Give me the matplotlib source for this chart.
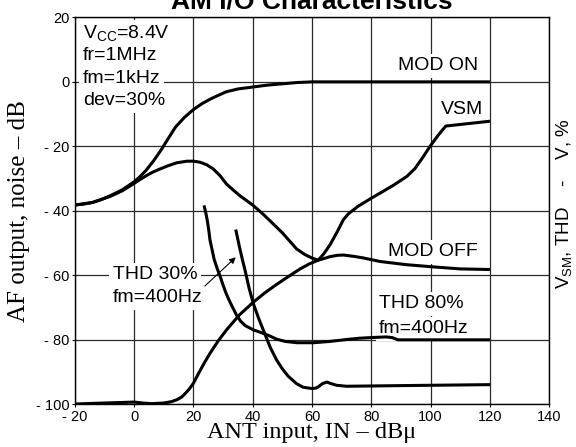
import matplotlib
matplotlib.use('Agg')
import matplotlib.pyplot as plt

plt.rcParams['font.family'] = ['Liberation Sans', 'DejaVu Sans']
plt.rcParams['mathtext.fontset'] = 'custom'
plt.rcParams['mathtext.rm'] = 'Liberation Sans'

# curves
mod_on_x = [-20, -17, -14, -11, -8, -4, 0, 2, 4, 6.5, 9, 11.5, 14, 17, 20, 23, 26, 31,
            35, 40, 45, 50, 55, 60, 80, 100, 120]
mod_on_y = [-38.2, -37.9, -37.4, -36.5, -35.3, -33.5, -31, -29.4, -27.5, -24.6, -21.3,
            -17.6, -14, -11, -8.6, -6.7, -5.2, -3.1, -2.2, -1.6, -1, -0.6, -0.2, 0, 0, 0, 0]

mod_off_x = [-20, -14, -8, -4, 0, 2, 4.3, 6.5, 8.8, 11.5, 14.4, 17.8, 20, 22.2, 24.5,
             26.7, 29, 31.2, 33.5, 35.7, 40, 43.5, 47, 50, 52.5, 54.8, 57.5, 59.9, 62.1,
             64, 66.1, 68.5, 70.6, 74, 77.3, 82.9, 91.9, 99.8, 109.9, 120]
mod_off_y = [-38.2, -37.4, -35.5, -33.8, -31.5, -30.3, -29, -27.9, -27, -26, -25.1,
             -24.6, -24.6, -24.9, -25.7, -27, -29.1, -31.7, -33.6, -35.3, -38.2, -41,
             -44.1, -46.8, -49.4, -51.8, -53.5, -54.6, -55.3, -54.8, -54.2, -53.8, -53.7,
             -54.1, -54.6, -55.7, -56.7, -57.3, -58, -58.2]

vsm_x = [-20, -10, -3, 0, 3, 6, 10, 12.5, 14.4, 16, 17.2, 18.6, 20, 22, 23.8, 25.6,
         28.4, 31.2, 35.5, 40, 44, 48.1, 52, 56, 59, 62.1, 64, 66.1, 68.5, 70.6, 72.3,
         75.5, 79.6, 87.4, 92, 94.7, 97.3, 99.8, 102.5, 105.1, 120]
vsm_y = [-99.9, -99.6, -99.4, -99.3, -99.6, -99.8, -99.6, -99.2, -98.6, -97.8, -96.7,
         -95.3, -93.5, -90, -87, -84.2, -80.3, -76.9, -72.3, -68.5, -65.5, -62.8, -60.4,
         -58, -56.5, -55.3, -53.3, -50.5, -46.5, -42.7, -40.9, -38.6, -36.3, -32.1,
         -29.3, -26.9, -23.5, -20, -16.6, -13.7, -12.2]

thd80_x = [23.6, 24.2, 24.7, 25.2, 25.6, 26.3, 27, 28, 29, 30, 31, 32, 33, 34.6, 36,
           37.5, 40.2, 43.6, 46, 48.1, 51, 55, 60.5, 66, 71.7, 76, 80, 85, 87, 89, 100, 120]
thd80_y = [-38.3, -40.6, -43, -46, -49, -52, -55, -57.8, -60.2, -63, -65.5, -67.6, -69.5,
           -72.4, -74.3, -75.6, -76.9, -78, -78.9, -79.8, -80.5, -80.9, -80.9, -80.5,
           -79.9, -79.5, -79.3, -79.1, -79.3, -80, -80, -80]

thd30_x = [34.3, 35.5, 36.5, 37.4, 38.8, 40.2, 42, 43.6, 46, 48.1, 50, 52, 54.8, 57,
           59.9, 61.2, 62.1, 63.5, 65, 66.5, 68.3, 71.7, 90, 120]
thd30_y = [-45.8, -51, -55, -58.3, -64, -68.7, -73.3, -77, -82.5, -86.3, -89, -91.3,
           -93.6, -94.7, -95.1, -95, -94.6, -93.6, -93.1, -93.6, -94.1, -94.4, -94.2, -93.9]

xticks = [-20, 0, 20, 40, 60, 80, 100, 120, 140]
xlabels = ['- 20', '0', '20', '40', '60', '80', '100', '120', '140']
yticks = [-100, -80, -60, -40, -20, 0, 20]
ylabels = ['- 100', '- 80', '- 60', '- 40', '- 20', '0', '20']

fig = plt.figure(figsize=(5.76, 4.47), dpi=100)
ax = fig.add_axes([0.1297, 0.0955, 0.8239, 0.8656])

for xs, ys in [(mod_on_x, mod_on_y), (mod_off_x, mod_off_y), (vsm_x, vsm_y),
               (thd80_x, thd80_y), (thd30_x, thd30_y)]:
    ax.plot(xs, ys, color='black', lw=2.2, solid_capstyle='butt',
            solid_joinstyle='round', zorder=4)

ax.set_xlim(-20, 140)
ax.set_ylim(-100, 20)
ax.set_xticks(xticks)
ax.set_xticklabels(xlabels)
ax.set_yticks(yticks)
ax.set_yticklabels(ylabels)
ax.tick_params(axis='both', labelsize=10.5, length=2.5, width=0.8, pad=1.5)
ax.set_axisbelow(True)
ax.grid(True, color='#2a2a2a', lw=0.9)
for s in ax.spines.values():
    s.set_linewidth(1.0)

ax.set_xlabel('ANT input, IN – dBμ', family='Liberation Serif', fontsize=17.5, labelpad=-1)
ax.set_ylabel('AF output, noise – dB', family='Liberation Serif', fontsize=18, labelpad=4)

box = dict(facecolor='white', edgecolor='none', pad=2.5)
lbl = 14

# condition block, top left
ax.text(-17.3, 13.5, r'V$_{\mathrm{CC}}$=8.4V', fontsize=lbl, va='baseline', bbox=box, zorder=3)
ax.text(-17.3, 6.75, 'fr=1MHz', fontsize=lbl, va='baseline', bbox=box, zorder=3)
ax.text(-17.3, -0.5, 'fm=1kHz', fontsize=lbl, va='baseline', bbox=box, zorder=3)
ax.text(-17.3, -7.25, 'dev=30%', fontsize=lbl, va='baseline', bbox=box, zorder=3)

ax.text(116, 3.6, 'MOD ON', fontsize=lbl, ha='right', va='baseline', bbox=box, zorder=3)
ax.text(117.8, -10.1, 'VSM', fontsize=lbl, ha='right', va='baseline', bbox=box, zorder=3)
ax.text(116, -54.1, 'MOD OFF', fontsize=lbl, ha='right', va='baseline', bbox=box, zorder=3)
ax.text(82.6, -70.2, 'THD 80%', fontsize=lbl, va='baseline', bbox=box, zorder=3)
ax.text(82.6, -77.9, 'fm=400Hz', fontsize=lbl, va='baseline', bbox=box, zorder=3)
ax.text(-7.2, -61.2, 'THD 30%', fontsize=lbl, va='baseline', bbox=box, zorder=3)
ax.text(-7.2, -68.4, 'fm=400Hz', fontsize=lbl, va='baseline', bbox=box, zorder=3)

ax.annotate('', xy=(34.3, -54.4), xytext=(23.9, -63.3),
            arrowprops=dict(arrowstyle='-|>', color='black', lw=0.8,
                            mutation_scale=9, shrinkA=0, shrinkB=0), zorder=5)

fig.text(0.542, 0.982, 'AM I/O Characteristics', ha='center', va='baseline',
         fontsize=19, fontweight='bold')
fig.text(0.980, 0.5436, r'V$_{\mathrm{SM}}$, THD    -    V, %', rotation=90,
         ha='center', va='center', fontsize=13.5)

fig.savefig('out.png', dpi=100)
